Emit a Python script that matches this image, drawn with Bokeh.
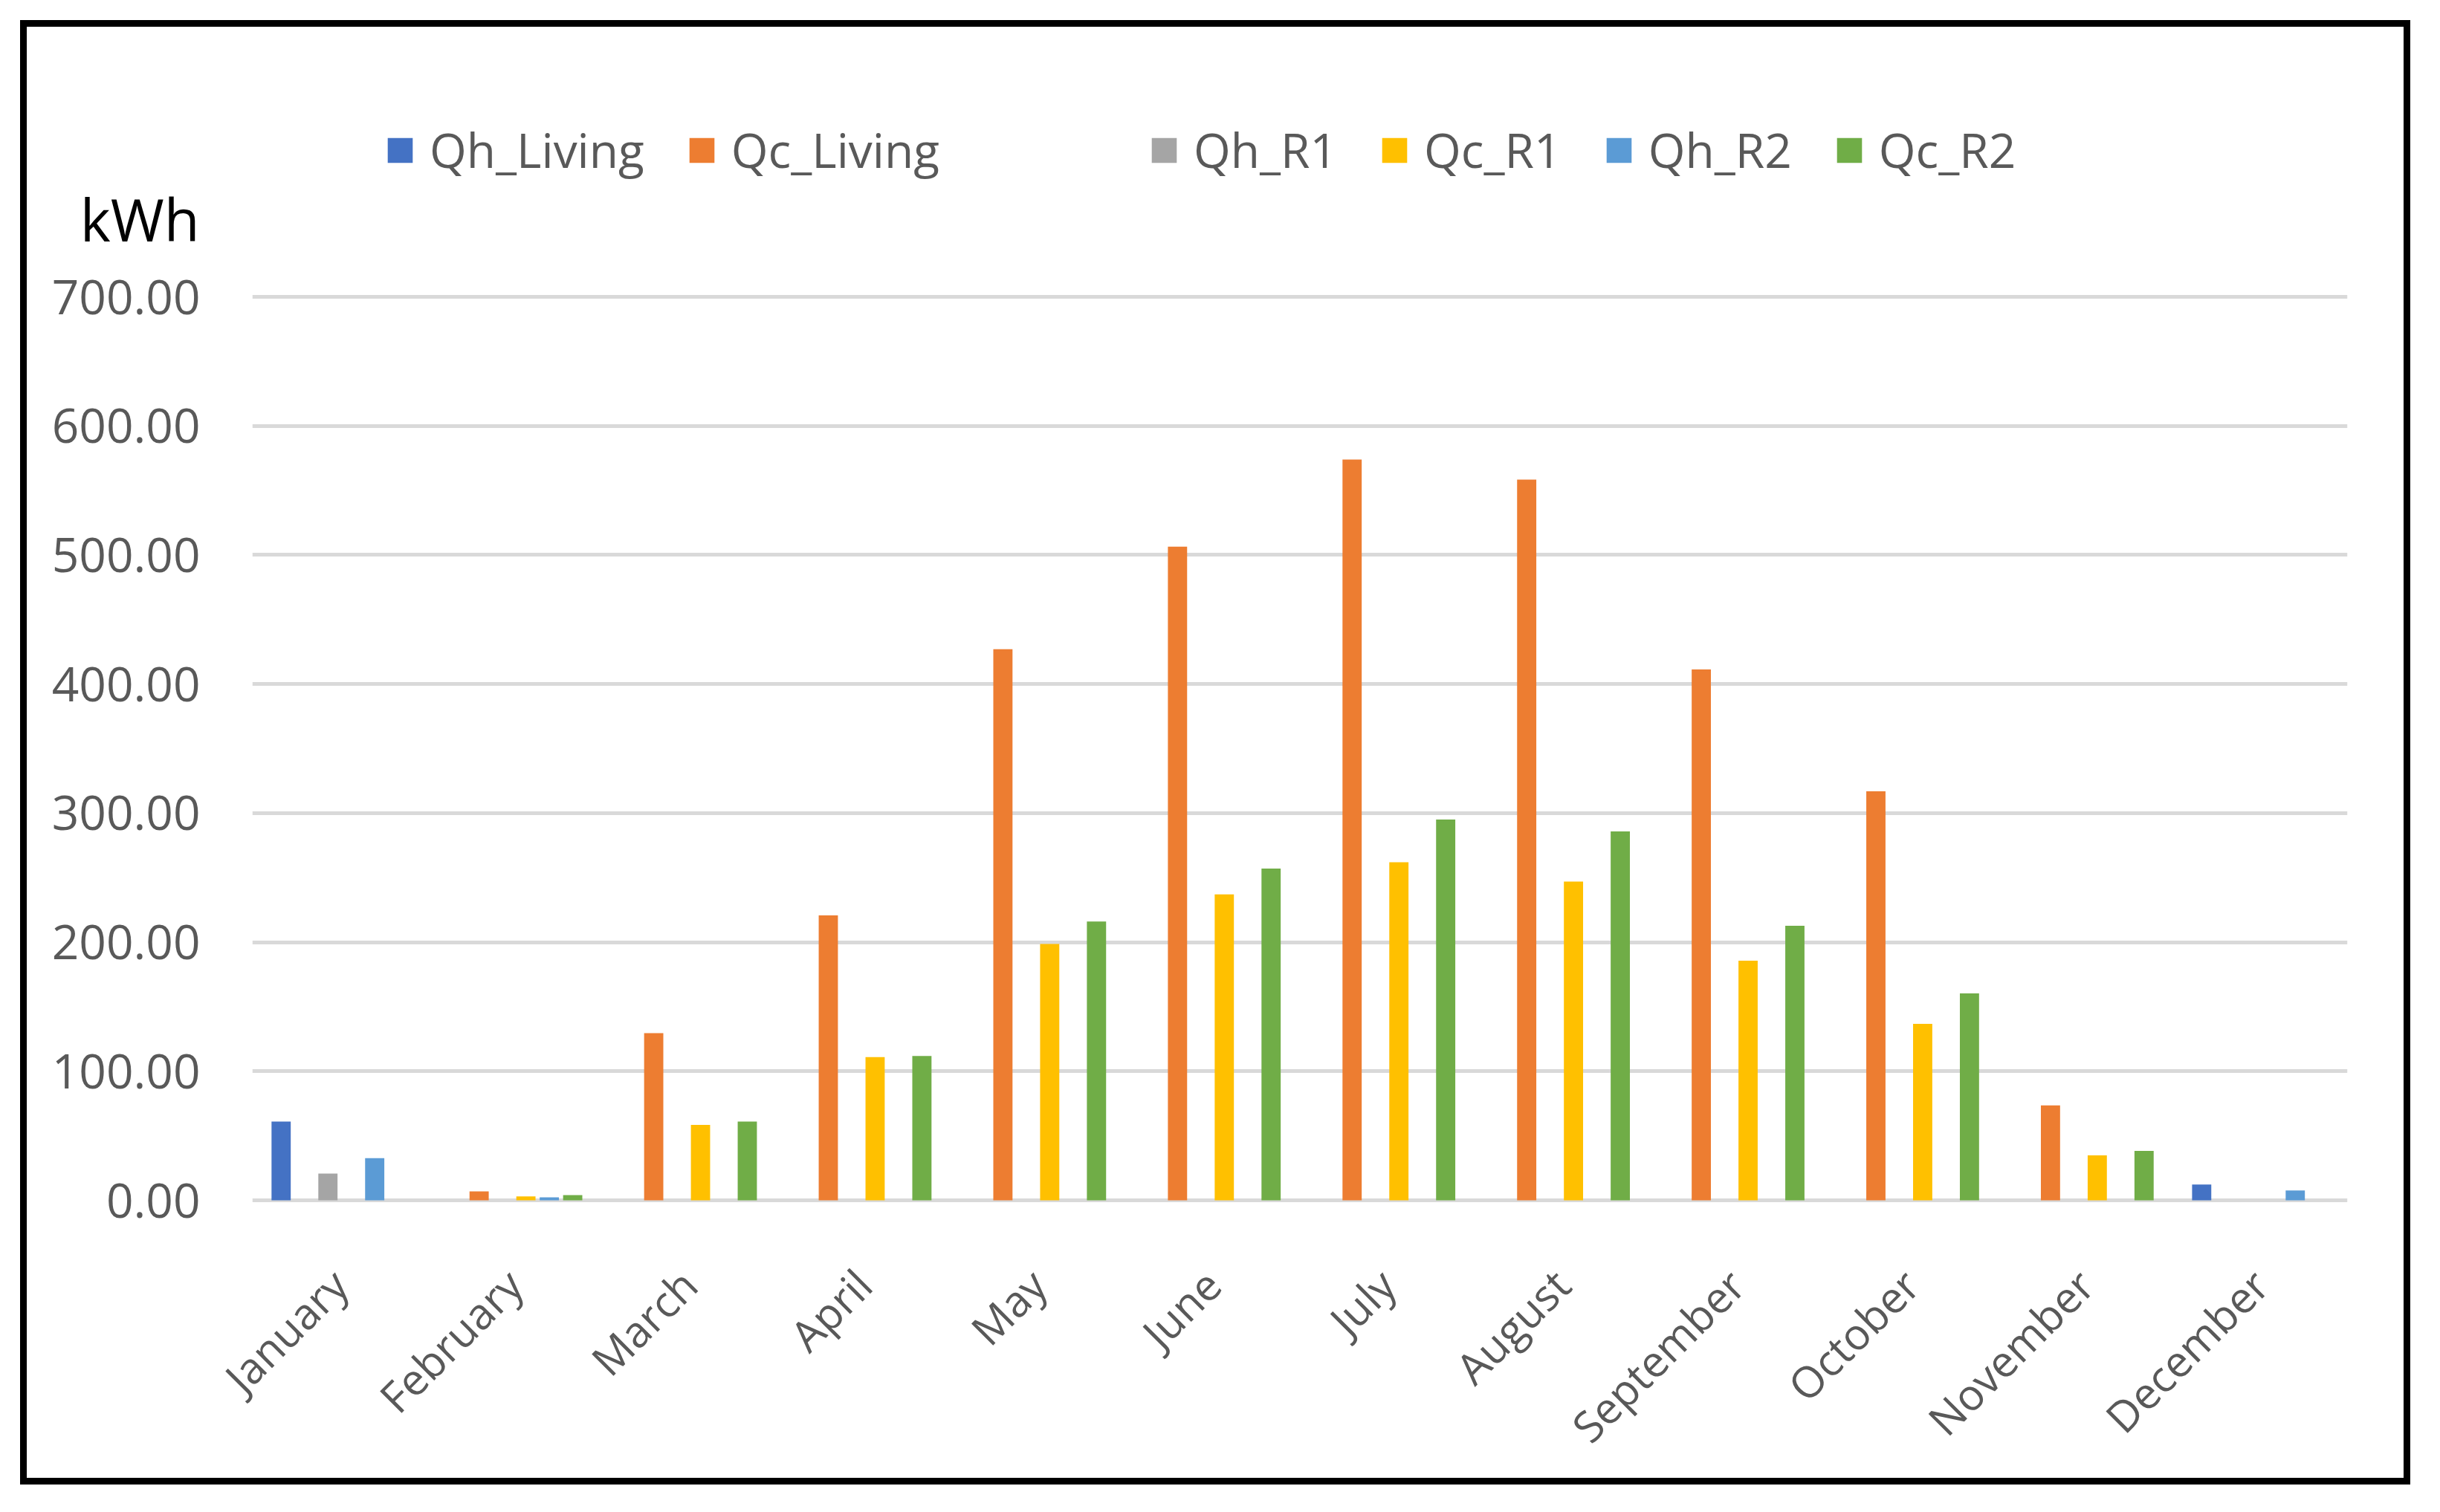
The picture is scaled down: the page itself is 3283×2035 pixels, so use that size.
from bokeh.plotting import figure
from bokeh.layouts import column
from bokeh.models import (ColumnDataSource, FactorRange, Range1d, FixedTicker,
                          NumeralTickFormatter, Legend, LegendItem, LinearAxis)
from bokeh.transform import dodge
from bokeh.embed import file_html
from bokeh.resources import INLINE
import math

months = ["January", "February", "March", "April", "May", "June", "July",
          "August", "September", "October", "November", "December"]
series_names = ["Qh_Living", "Qc_Living", "Qh_R1", "Qc_R1", "Qh_R2", "Qc_R2"]
qh_living = [61.0, 0, 0, 0, 0, 0, 0, 0, 0, 0, 0, 12.3]
qc_living = [0, 6.9, 129.6, 220.8, 427.0, 506.5, 574.0, 558.4, 411.4, 317.0, 73.5, 0]
qh_r1 = [20.8, 0, 0, 0, 0, 0, 0, 0, 0, 0, 0, 0]
qc_r1 = [0, 3.0, 58.5, 111.0, 198.6, 237.0, 262.0, 247.0, 185.7, 136.8, 34.8, 0]
qh_r2 = [32.7, 2.4, 0, 0, 0, 0, 0, 0, 0, 0, 0, 7.7]
qc_r2 = [0, 4.1, 61.0, 111.8, 216.0, 257.0, 295.0, 285.8, 212.8, 160.3, 38.3, 0]
y_ticks = [0, 100, 200, 300, 400, 500, 600, 700]
unit_label = "kWh"
colors = ["#4472C4", "#ED7D31", "#A5A5A5", "#FFC000", "#5B9BD5", "#70AD47"]

FONT = "Open Sans"
GREY_TXT = "#595959"

source = ColumnDataSource(data=dict(
    month=months, Qh_Living=qh_living, Qc_Living=qc_living, Qh_R1=qh_r1,
    Qc_R1=qc_r1, Qh_R2=qh_r2, Qc_R2=qc_r2))

W, H = 3198, 1953
p = figure(width=W, height=H, x_range=FactorRange(*months, range_padding=0),
           y_range=Range1d(-4, 909), output_backend="svg", toolbar_location=None,
           min_border_left=303, min_border_right=76, min_border_top=0,
           min_border_bottom=367)
p.background_fill_color = "white"
p.border_fill_color = "white"
p.outline_line_color = None

step = 0.134
renderers = []
for i, (name, col) in enumerate(zip(series_names, colors)):
    r = p.vbar(x=dodge("month", (i - 2.5) * step, range=p.x_range), top=name,
               bottom=0, width=0.11, source=source, fill_color=col, line_color=None)
    renderers.append(r)

# invisible renderer used only as legend spacer (Excel's hidden series gap)
spacer = p.vbar(x=[], top=[], width=0.1, fill_alpha=0, line_alpha=0)

# y axis
p.yaxis.ticker = FixedTicker(ticks=y_ticks)
p.yaxis.formatter = NumeralTickFormatter(format="0.00")
p.yaxis.axis_line_color = None
p.yaxis.major_tick_line_color = None
p.yaxis.minor_tick_line_color = None
p.yaxis.major_label_text_font = FONT
p.yaxis.major_label_text_font_size = "64px"
p.yaxis.major_label_text_color = GREY_TXT
p.yaxis.major_label_standoff = 64

# unit label as a second left axis carrying a single label
unit_axis = LinearAxis(ticker=FixedTicker(ticks=[760]),
                       major_label_overrides={760: unit_label},
                       axis_line_color=None, major_tick_line_color=None,
                       minor_tick_line_color=None, major_label_standoff=-208,
                       major_label_text_font=FONT, major_label_text_font_size="78px",
                       major_label_text_color="black")
p.add_layout(unit_axis, "left")

# x axis
p.xaxis.axis_line_color = None
p.xaxis.major_tick_line_color = None
p.xaxis.minor_tick_line_color = None
p.xaxis.major_label_orientation = math.pi / 4
p.xaxis.major_label_text_font = FONT
p.xaxis.major_label_text_font_size = "58px"
p.xaxis.major_label_text_color = GREY_TXT
p.xaxis.major_label_standoff = 90

p.xgrid.grid_line_color = None
p.ygrid.grid_line_color = "#D9D9D9"
p.ygrid.grid_line_width = 5
p.ygrid.ticker = FixedTicker(ticks=y_ticks)

# legend
items = [LegendItem(label=series_names[0], renderers=[renderers[0]]),
         LegendItem(label=series_names[1], renderers=[renderers[1]]),
         LegendItem(label="", renderers=[spacer])]
items += [LegendItem(label=series_names[i], renderers=[renderers[i]]) for i in range(2, 6)]
legend = Legend(items=items, orientation="horizontal", location=(178, 1377),
                glyph_width=42, glyph_height=42, label_standoff=19, spacing=56,
                label_width=108,
                padding=0, margin=0, border_line_color=None, background_fill_alpha=0,
                label_text_font=FONT, label_text_font_size="64px",
                label_text_color=GREY_TXT)
p.add_layout(legend)

root = column(p, styles={"border": "9px solid black", "background-color": "white",
                         "margin-left": "27px", "margin-top": "27px"})

open("out.html", "w").write(file_html(root, INLINE))
